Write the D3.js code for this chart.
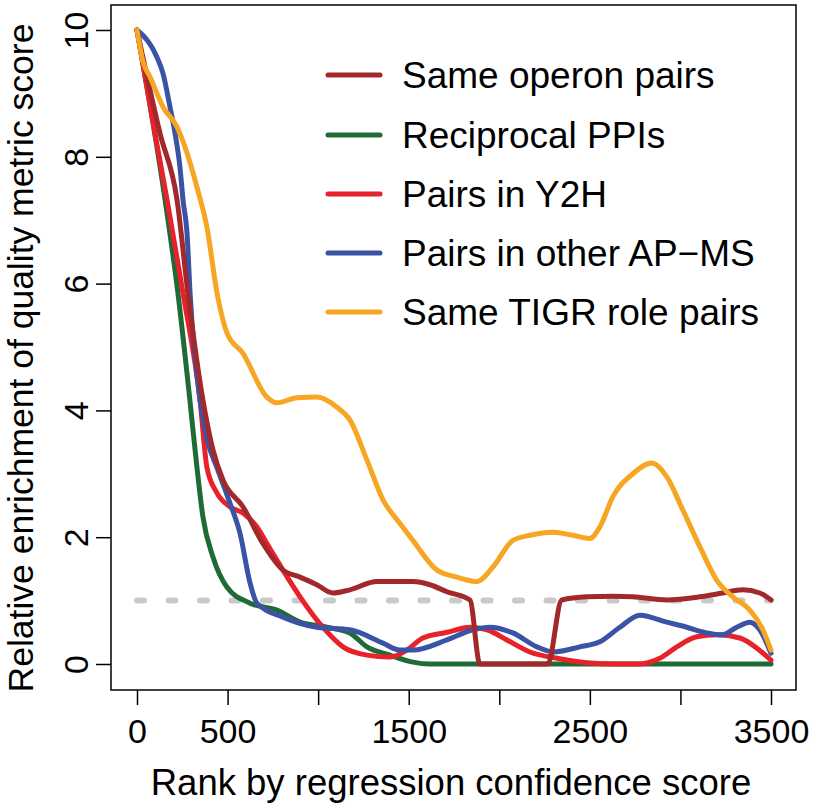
<!DOCTYPE html>
<html><head><meta charset="utf-8">
<script src="https://cdn.jsdelivr.net/npm/d3@7"></script>
<style>body{margin:0;background:#fff}svg{display:block}</style>
</head><body>
<svg id="chart" width="814" height="805"></svg>
<script>
// ---- data ----
const seriesNames = ["Same operon pairs","Reciprocal PPIs","Pairs in Y2H","Pairs in other AP\u2212MS","Same TIGR role pairs"];
const seriesColors = ["#A3282C","#1F6B36","#E8222B","#3A53A4","#F6A623"];

const operonRank  = [0,127,221,281,364,419,475,585,695,806,900,993,1082,1175,1324,1451,1523,1617,1711,1838,1893,2268,2345,2483,2627,2737,2925,3107,3234,3344,3438,3500];
const operonValue = [10,8.37,7.32,5.85,4.16,3.38,2.9,2.48,1.9,1.48,1.37,1.25,1.12,1.17,1.3,1.3,1.3,1.25,1.14,1.01,0,0,1.01,1.06,1.07,1.06,1.01,1.06,1.12,1.17,1.12,1.01];

const ppiRank  = [0,155,226,292,331,364,419,497,624,773,900,1049,1175,1269,1396,1523,1617,3500];
const ppiValue = [10,7.32,5.85,4.16,3.1,2.32,1.69,1.21,0.96,0.85,0.66,0.58,0.49,0.27,0.14,0.03,0,0];

const y2hRank  = [0,99,166,254,348,386,441,513,585,662,717,806,900,1026,1137,1269,1396,1490,1578,1711,1838,1932,2042,2169,2318,2483,2650,2776,2886,2980,3090,3201,3328,3422,3500];
const y2hValue = [10,8.37,7.32,5.85,4.16,3.1,2.7,2.48,2.38,2.16,1.9,1.48,1.06,0.58,0.27,0.14,0.11,0.22,0.41,0.5,0.58,0.54,0.38,0.19,0.09,0.02,0,0,0.09,0.27,0.43,0.46,0.41,0.25,0.06];

const apmsRank  = [0,110,143,182,210,237,254,276,293,348,392,441,513,568,624,662,806,993,1175,1358,1451,1523,1711,1854,1948,2075,2208,2296,2445,2555,2666,2776,2925,3035,3146,3228,3311,3383,3438,3500];
const apmsValue = [10,9.57,9.32,8.79,8.37,7.84,7.32,6.8,5.85,4.16,3.49,3.1,2.54,2.07,1.28,0.96,0.74,0.58,0.54,0.33,0.22,0.22,0.38,0.54,0.58,0.49,0.27,0.19,0.27,0.35,0.58,0.77,0.66,0.58,0.49,0.46,0.58,0.66,0.54,0.17];

const tigrRank  = [0,33,72,143,221,276,331,386,442,497,585,717,773,883,993,1104,1175,1269,1358,1451,1523,1656,1766,1876,1965,2075,2169,2296,2406,2500,2555,2627,2737,2842,2925,3013,3107,3201,3289,3383,3455,3500];
const tigrValue = [10,9.5,9.26,8.79,8.47,8.06,7.52,6.89,5.85,5.22,4.9,4.21,4.12,4.2,4.21,4.05,3.85,3.22,2.59,2.22,1.95,1.48,1.37,1.3,1.53,1.95,2.03,2.08,2.03,1.98,2.16,2.64,3.0,3.17,2.95,2.43,1.85,1.32,1.06,0.85,0.54,0.22];

const xTicks = [0,500,1000,1500,2000,2500,3000,3500];
const xTickLabels = ["0","500","","1500","","2500","","3500"];
const yTicks = [0,2,4,6,8,10];
const yTickLabels = ["0","2","4","6","8","10"];
const baselineValue = 1;

const xTitle = "Rank by regression confidence score";
const yTitle = "Relative enrichment of quality metric score";

// ---- drawing ----
const FONT = "'Liberation Sans', Arial, Helvetica, sans-serif";
const svg = d3.select("#chart");
const box = {left:111, top:5, right:796, bottom:690};
const x = d3.scaleLinear().domain([0,3500]).range([137,771]);
const y = d3.scaleLinear().domain([0,10]).range([664,30]);

// reference line
svg.append("line")
  .attr("x1", x(0)).attr("x2", x(3500))
  .attr("y1", y(baselineValue)).attr("y2", y(baselineValue))
  .attr("stroke","#C9C9C9").attr("stroke-width",6)
  .attr("stroke-linecap","round").attr("stroke-dasharray","7 24.5");

const series = [
  {rank: operonRank, value: operonValue, i:0},
  {rank: ppiRank, value: ppiValue, i:1},
  {rank: y2hRank, value: y2hValue, i:2},
  {rank: apmsRank, value: apmsValue, i:3},
  {rank: tigrRank, value: tigrValue, i:4}
];
const drawOrder = [1,2,3,0,4];
const line = d3.line().x(d=>x(d[0])).y(d=>y(d[1])).curve(d3.curveMonotoneX);
drawOrder.forEach(k=>{
  const s = series[k];
  const pts = s.rank.map((r,j)=>[r, s.value[j]]);
  svg.append("path").datum(pts)
    .attr("d", line).attr("fill","none")
    .attr("stroke", seriesColors[s.i]).attr("stroke-width",5)
    .attr("stroke-linejoin","round").attr("stroke-linecap","round");
});

// box
svg.append("rect").attr("x",box.left).attr("y",box.top)
  .attr("width",box.right-box.left).attr("height",box.bottom-box.top)
  .attr("fill","none").attr("stroke","#000").attr("stroke-width",1.5);

// x axis
const xAxis = svg.append("g").attr("transform",`translate(0,${box.bottom})`)
  .call(d3.axisBottom(x).tickValues(xTicks).tickSize(15).tickSizeOuter(0)
    .tickFormat((d,i)=>xTickLabels[i]));
xAxis.select(".domain").remove();
xAxis.selectAll(".tick line").attr("stroke","#000").attr("stroke-width",1.5);
xAxis.selectAll(".tick text").attr("y",53).attr("dy",0)
  .attr("fill","#000").style("font-family",FONT).style("font-size","34px");

// y axis
const yAxis = svg.append("g").attr("transform",`translate(${box.left},0)`)
  .call(d3.axisLeft(y).tickValues(yTicks).tickSize(15).tickSizeOuter(0)
    .tickFormat((d,i)=>yTickLabels[i]));
yAxis.select(".domain").remove();
yAxis.selectAll(".tick line").attr("stroke","#000").attr("stroke-width",1.5);
yAxis.selectAll(".tick text").attr("transform","rotate(-90)")
  .attr("x",0).attr("y",-23).attr("dy",0).attr("text-anchor","middle")
  .attr("fill","#000").style("font-family",FONT).style("font-size","34px");

// titles
svg.append("text").attr("x",451).attr("y",795)
  .attr("text-anchor","middle").style("font-family",FONT).style("font-size","36.5px")
  .text(xTitle);
svg.append("text").attr("transform",`translate(33,358) rotate(-90)`)
  .attr("text-anchor","middle").style("font-family",FONT).style("font-size","35.5px")
  .text(yTitle);

// legend
const legendY = [75,135,194,253,312];
const lg = svg.append("g");
seriesNames.forEach((name,i)=>{
  lg.append("line").attr("x1",328).attr("x2",380)
    .attr("y1",legendY[i]).attr("y2",legendY[i])
    .attr("stroke",seriesColors[i]).attr("stroke-width",5).attr("stroke-linecap","round");
  lg.append("text").attr("x",402).attr("y",legendY[i]+13)
    .style("font-family",FONT).style("font-size","37px").text(name);
});
</script>
</body></html>
